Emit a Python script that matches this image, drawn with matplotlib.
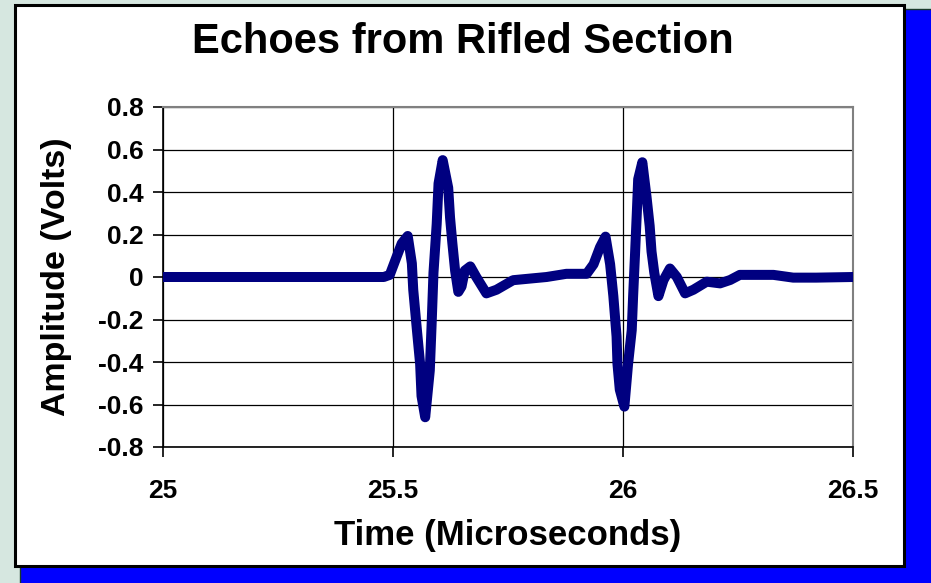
import matplotlib
matplotlib.use("Agg")
import matplotlib.pyplot as plt
from matplotlib.patches import Rectangle

# Echo waveform (time in microseconds, amplitude in volts)
time_us = [25.000, 25.150, 25.300, 25.480, 25.493, 25.508, 25.519, 25.532,
           25.541, 25.544, 25.552, 25.559, 25.562, 25.570, 25.580, 25.584,
           25.588, 25.595, 25.599, 25.608, 25.620, 25.624, 25.629, 25.635,
           25.642, 25.649, 25.656, 25.668, 25.681, 25.703, 25.725, 25.761,
           25.834, 25.877, 25.921,
           25.936, 25.950, 25.962, 25.972, 25.979, 25.986, 25.988, 25.993,
           26.003, 26.011, 26.019, 26.022, 26.026, 26.030, 26.033, 26.042,
           26.051, 26.058, 26.062, 26.068, 26.077, 26.088, 26.102, 26.117,
           26.135, 26.153, 26.182, 26.211, 26.233, 26.254, 26.327, 26.370,
           26.420, 26.500]
amplitude_v = [0.0, 0.0, 0.0, 0.0, 0.01, 0.096, 0.158, 0.193,
               0.064, -0.06, -0.25, -0.41, -0.56, -0.66, -0.44, -0.22,
               0.02, 0.25, 0.44, 0.55, 0.42, 0.28, 0.16, 0.03,
               -0.07, -0.045, 0.03, 0.05, 0.0, -0.077, -0.06, -0.015,
               0.0, 0.015, 0.015,
               0.06, 0.14, 0.19, 0.06, -0.09, -0.28, -0.41, -0.53,
               -0.61, -0.41, -0.25, -0.09, 0.10, 0.30, 0.46, 0.54,
               0.38, 0.24, 0.12, 0.02, -0.09, -0.015, 0.04, 0.0,
               -0.077, -0.06, -0.022, -0.03, -0.014, 0.01, 0.01, -0.003,
               -0.003, 0.0]

x_ticks = [25, 25.5, 26, 26.5]
x_tick_labels = ["25", "25.5", "26", "26.5"]
y_ticks = [-0.8, -0.6, -0.4, -0.2, 0, 0.2, 0.4, 0.6, 0.8]
y_tick_labels = ["-0.8", "-0.6", "-0.4", "-0.2", "0", "0.2", "0.4", "0.6", "0.8"]

plt.rcParams['font.family'] = ['Liberation Sans', 'DejaVu Sans']
plt.rcParams['font.weight'] = 'bold'

W, H = 931, 583
fig = plt.figure(figsize=(W / 100, H / 100), dpi=100)
fig.patch.set_facecolor("#d6e7e0")

# blue drop shadow and white chart box (pixel coords converted to figure fractions)
def px_rect(x0, y0, x1, y1, **kw):
    return Rectangle((x0 / W, 1 - y1 / H), (x1 - x0) / W, (y1 - y0) / H,
                     transform=fig.transFigure, **kw)

fig.patches.append(px_rect(20, 9, 940, 590, facecolor="#0000ff",
                           edgecolor="#1a3a2a", linewidth=1, zorder=0))
fig.patches.append(px_rect(15, 5, 904, 566, facecolor="white",
                           edgecolor="black", linewidth=2.2, zorder=1))

ax = fig.add_axes([163 / W, 1 - 447 / H, (853 - 163) / W, (447 - 107) / H])
ax.set_facecolor("white")
ax.set_zorder(2)

ax.plot(time_us, amplitude_v, color="#000080", linewidth=7.2,
        solid_capstyle="round", solid_joinstyle="round", zorder=3)

ax.set_xlim(25, 26.5)
ax.set_ylim(-0.8, 0.8)
ax.set_xticks(x_ticks)
ax.set_xticklabels(x_tick_labels)
ax.set_yticks(y_ticks)
ax.set_yticklabels(y_tick_labels)

ax.grid(True, color="black", linewidth=0.9, zorder=1)
ax.set_axisbelow(True)

for side in ["left", "bottom"]:
    ax.spines[side].set_color("black")
    ax.spines[side].set_linewidth(1.2)
for side in ["top", "right"]:
    ax.spines[side].set_color("#808080")
    ax.spines[side].set_linewidth(1.5)

ax.tick_params(axis="x", direction="out", length=7, width=1.2, pad=16,
               labelsize=19)
ax.tick_params(axis="y", direction="out", length=7, width=1.2, pad=7,
               labelsize=19)
for lbl in ax.get_xticklabels() + ax.get_yticklabels():
    lbl.set_fontweight("bold")

fig.text(463 / W, 1 - 42 / H, "Echoes from Rifled Section", ha="center",
         va="center", fontsize=30, fontweight="bold")
fig.text(508 / W, 1 - 535 / H, "Time (Microseconds)", ha="center",
         va="center", fontsize=25, fontweight="bold")
fig.text(57 / W, 1 - 277 / H, "Amplitude (Volts)", ha="center", va="center",
         rotation=90, fontsize=24.5, fontweight="bold")

fig.savefig("out.png", dpi=100, facecolor=fig.get_facecolor())
